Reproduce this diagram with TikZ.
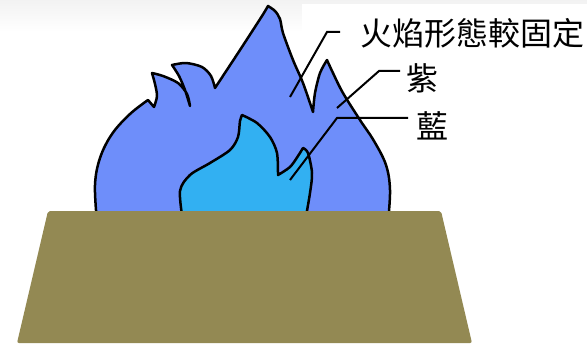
\documentclass[tikz,border=0pt]{standalone}
\usepackage{fontspec}
\newfontfamily\cjk{Noto Sans CJK TC}
\usetikzlibrary{positioning}
\definecolor{outerblue}{RGB}{110,142,250}
\definecolor{innerblue}{RGB}{50,176,242}
\definecolor{basebrown}{RGB}{147,137,83}
\tikzset{
  flameline/.style={draw=black, line width=2.5pt, line join=round},
  leader/.style={draw=black, line width=2pt},
  lbl/.style={inner sep=0pt, anchor=west, font=\cjk\fontsize{32}{36}\selectfont},
  stand/.style={fill=basebrown, rounded corners=2pt}
}

\begin{document}
\begin{tikzpicture}[x=1pt, y=-1pt]
  \useasboundingbox (0,0) rectangle (587,345);
  % faint backdrop, white panel behind the labels
  \shade[top color=black!5, bottom color=white] (0,0) rectangle (587,32);
  \fill[white] (302,4) rectangle (587,60);

  % outer (purple) flame
  \filldraw[flameline, fill=outerblue] (97,222)
    -- plot[smooth, tension=0.6] coordinates {(97,222) (95,185) (100,158) (112,134) (130,114) (148,100)}
    -- (154,107)
    -- plot[smooth] coordinates {(154,107) (157,96) (155,84) (152,73)}
    -- plot[smooth] coordinates {(152,73) (163,76) (178,83) (187,94) (190,106)}
    -- plot[smooth] coordinates {(190,106) (185,90) (179,76) (172,65)}
    -- plot[smooth] coordinates {(172,65) (186,63) (202,67) (211,76) (215,88)}
    -- plot[smooth] coordinates {(215,88) (240,50) (262,16) (268,6)}
    -- plot[smooth] coordinates {(268,6) (275,11) (280,19) (283,33) (293,60) (303,83) (313,112)}
    -- plot[smooth] coordinates {(313,112) (315,93) (320,73) (327,60)}
    -- plot[smooth, tension=0.6] coordinates {(327,60) (333,73) (343,93) (360,120) (374,141) (386,165) (390,190) (388,222)}
    -- cycle;

  % inner (blue) flame
  \filldraw[flameline, fill=innerblue] (183,222)
    -- plot[smooth] coordinates {(183,222) (180,191) (190,175) (210,163) (230,150) (238,137) (240,121) (242,115)}
    -- plot[smooth] coordinates {(242,115) (257,123) (270,137) (277,153) (278,175)}
    -- plot[smooth] coordinates {(278,175) (290,167) (298,156) (303,148)}
    -- plot[smooth] coordinates {(303,148) (308,153) (312,173) (310,193) (305,222)}
    -- cycle;

  % burner base
  \fill[stand] (48,211) -- (441,211) -- (472,343) -- (17,343) -- cycle;

  % labels
  \node[lbl] (shape) at (360,33) {火焰形態較固定};
  \node[lbl] (purple) at (406,78) {紫};
  \node[lbl] (blue) at (416,126) {藍};

  \coordinate (p1) at (290,97);
  \coordinate (k1) at (327,32);
  \coordinate (e1) at (340,32);
  \coordinate (p2) at (337,108);
  \coordinate (k2) at (379,71);
  \coordinate (e2) at (400,71);
  \coordinate (p3) at (290,180);
  \coordinate (k3) at (337,118);
  \coordinate (e3) at (408,118);

  \draw[leader] (p1) -- (k1) -- (e1);
  \draw[leader] (p2) -- (k2) -- (e2);
  \draw[leader] (p3) -- (k3) -- (e3);
\end{tikzpicture}
\end{document}
